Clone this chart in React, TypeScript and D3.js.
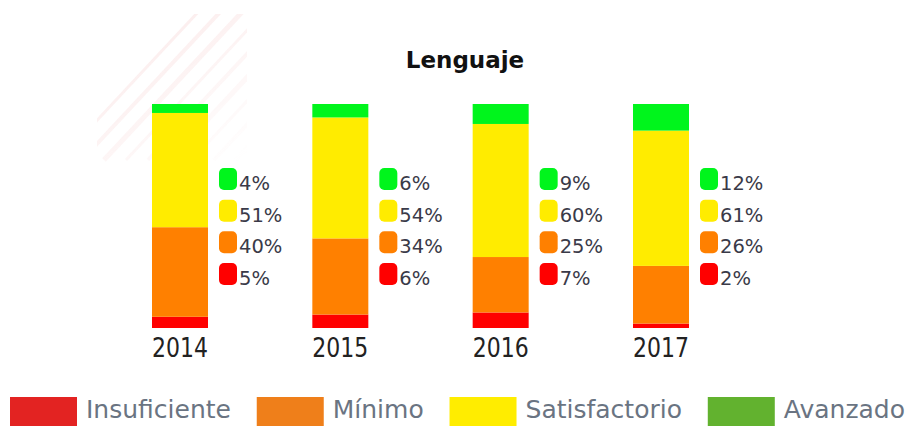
import React, { useEffect, useRef } from 'react'
import * as d3 from 'd3'

const years = ['2014', '2015', '2016', '2017']
const levels = ['Insuficiente', 'Mínimo', 'Satisfactorio', 'Avanzado']
const insuficiente = [5, 6, 7, 2]
const minimo = [40, 34, 25, 26]
const satisfactorio = [51, 54, 60, 61]
const avanzado = [4, 6, 9, 12]

const barColors: Record<string, string> = {
  Insuficiente: '#ff0000',
  'Mínimo': '#ff8000',
  Satisfactorio: '#ffec00',
  Avanzado: '#00f51c',
}
const legendColors: Record<string, string> = {
  Insuficiente: '#e32322',
  'Mínimo': '#ef7f1a',
  Satisfactorio: '#ffed00',
  Avanzado: '#62b22f',
}

const W = 910
const H = 426
const FONT = '"DejaVu Sans", sans-serif'

export default function App() {
  const svgRef = useRef<SVGSVGElement>(null)

  useEffect(() => {
    const svg = d3.select(svgRef.current)
    svg.selectAll('*').remove()

    const series = [insuficiente, minimo, satisfactorio, avanzado]
    const rows = years.map((year, i) => {
      const row: any = { year }
      levels.forEach((k, j) => { row[k] = series[j][i] })
      return row
    })
    const stacked = d3.stack<any>().keys(levels).offset(d3.stackOffsetExpand)(rows)

    const barWidth = 56
    const x = d3.scalePoint<string>().domain(years).range([180, 661])
    const y = d3.scaleLinear().domain([0, 1]).range([328, 104])
    // baseline of each percentage label, top row = Avanzado
    const rowY = d3.scalePoint<string>().domain([...levels].reverse()).range([190, 285])

    // faint decorative stripes in the top-left corner
    const defs = svg.append('defs')
    defs.append('clipPath').attr('id', 'deco')
      .append('rect').attr('x', 97).attr('y', 14).attr('width', 150).attr('height', 190)
    const fade = defs.append('linearGradient').attr('id', 'fade')
      .attr('x1', 0).attr('y1', 0).attr('x2', 0.6).attr('y2', 1)
    fade.append('stop').attr('offset', '0%').attr('stop-color', '#fff').attr('stop-opacity', 1)
    fade.append('stop').attr('offset', '100%').attr('stop-color', '#fff').attr('stop-opacity', 0)
    defs.append('mask').attr('id', 'fadeMask')
      .append('rect').attr('x', 97).attr('y', 14).attr('width', 150).attr('height', 190)
      .attr('fill', 'url(#fade)')
    const deco = svg.append('g').attr('clip-path', 'url(#deco)').attr('mask', 'url(#fadeMask)')
    d3.range(0, 190, 22).forEach((o) => {
      deco.append('line')
        .attr('x1', 60 + o).attr('y1', 160)
        .attr('x2', 200 + o).attr('y2', 10)
        .attr('stroke', '#f7d6d6')
        .attr('stroke-width', 3 + (o % 3))
        .attr('opacity', 0.55)
    })

    // title
    svg.append('text')
      .attr('x', 465).attr('y', 68)
      .attr('text-anchor', 'middle')
      .style('font-family', FONT)
      .style('font-weight', 700)
      .style('font-size', '23px')
      .attr('fill', '#111')
      .text('Lenguaje')

    // stacked bars
    svg.append('g')
      .selectAll('g')
      .data(stacked)
      .join('g')
      .attr('fill', (d) => barColors[d.key])
      .selectAll('rect')
      .data((d) => d)
      .join('rect')
      .attr('x', (d) => (x(d.data.year) as number) - barWidth / 2)
      .attr('y', (d) => y(d[1]))
      .attr('width', barWidth)
      .attr('height', (d) => y(d[0]) - y(d[1]))

    // year labels
    svg.append('g')
      .selectAll('text')
      .data(years)
      .join('text')
      .attr('x', (d) => (x(d) as number) - barWidth / 2)
      .attr('y', 357)
      .attr('textLength', barWidth)
      .attr('lengthAdjust', 'spacingAndGlyphs')
      .style('font-family', FONT)
      .style('font-size', '27px')
      .attr('fill', '#222')
      .text((d) => d)

    // percentage labels beside each bar
    years.forEach((year, i) => {
      const cx = x(year) as number
      const g = svg.append('g')
      levels.forEach((k, j) => {
        const by = rowY(k) as number
        g.append('rect')
          .attr('x', cx + 39).attr('y', by - 22)
          .attr('width', 18).attr('height', 22)
          .attr('rx', 5)
          .attr('fill', barColors[k])
        g.append('text')
          .attr('x', cx + 59).attr('y', by)
          .style('font-family', FONT)
          .style('font-size', '19.5px')
          .attr('fill', '#3a3a48')
          .text(`${series[j][i]}%`)
      })
    })

    // legend, spread across the bottom
    const legend = svg.append('g')
    const items = levels.map((k) => {
      const item = legend.append('g')
      item.append('rect')
        .attr('y', 397).attr('width', 67).attr('height', 30)
        .attr('fill', legendColors[k])
      const t = item.append('text')
        .attr('x', 76).attr('y', 418)
        .style('font-family', FONT)
        .style('font-size', '25px')
        .attr('fill', '#6a7482')
        .text(k)
      const w = 76 + ((t.node() as SVGTextElement).getComputedTextLength?.() || 0)
      return { item, w }
    })
    const total = d3.sum(items, (d) => d.w)
    const gap = (905 - 10 - total) / (items.length - 1)
    let cursor = 10
    items.forEach(({ item, w }) => {
      item.attr('transform', `translate(${cursor},0)`)
      cursor += w + gap
    })
  }, [])

  return (
    <div style={{ position: 'absolute', left: 0, top: 0, width: W, height: H, background: '#fff' }}>
      <svg ref={svgRef} width={W} height={H} style={{ display: 'block' }} />
    </div>
  )
}
